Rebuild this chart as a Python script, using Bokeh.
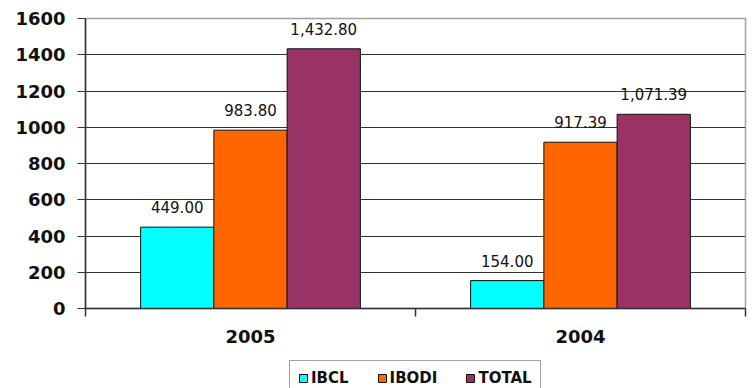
import numpy as np
from bokeh.plotting import figure
from bokeh.layouts import column
from bokeh.models import (ColumnDataSource, FixedTicker, Range1d, Legend, LegendItem,
                          LabelSet)
from bokeh.core.properties import value
from bokeh.embed import file_html
from bokeh.resources import INLINE

# Chart data
years = ["2005", "2004"]
series_names = ["IBCL", "IBODI", "TOTAL"]
ibcl = [449.00, 154.00]
ibodi = [983.80, 917.39]
total = [1432.80, 1071.39]
y_ticks = [0, 200, 400, 600, 800, 1000, 1200, 1400, 1600]

colors = ["#00FFFF", "#FF6600", "#993366"]
FONT = "DejaVu Sans"
INK = "#111111"
AXIS = "#333333"

p = figure(width=752, height=360, output_backend="svg", toolbar_location=None,
           x_range=Range1d(0, len(years)), y_range=Range1d(0, 1600),
           min_border_left=85, min_border_right=7, min_border_top=18,
           min_border_bottom=52)

centers = np.arange(len(years)) + 0.5
bar_w = 0.222
offsets = [-bar_w, 0.0, bar_w]

sources = []
for name, vals, col, off in zip(series_names, [ibcl, ibodi, total], colors, offsets):
    src = ColumnDataSource(dict(
        x=centers + off,
        top=vals,
        label=[f"{v:,.2f}" for v in vals],
    ))
    sources.append(src)
    p.vbar(x="x", top="top", width=bar_w, source=src, fill_color=col,
           line_color=INK, line_width=1)
    p.add_layout(LabelSet(x="x", y="top", text="label", source=src,
                          text_align="center", text_baseline="alphabetic",
                          y_offset=14, text_font=value(FONT), text_font_size="15px",
                          text_color=INK))

# Frame and grid
p.background_fill_color = "white"
p.border_fill_color = "white"
p.outline_line_color = "#a0a0a0"
p.outline_line_width = 1.5
p.xgrid.grid_line_color = None
p.ygrid.grid_line_color = AXIS
p.ygrid.grid_line_width = 1.2

# Y axis
p.yaxis.ticker = FixedTicker(ticks=y_ticks)
p.yaxis.major_label_text_font = FONT
p.yaxis.major_label_text_font_style = "bold"
p.yaxis.major_label_text_font_size = "18px"
p.yaxis.major_label_text_color = INK
p.yaxis.major_tick_out = 8
p.yaxis.major_tick_in = 0
p.yaxis.minor_tick_line_color = None
p.yaxis.major_label_standoff = 12
p.yaxis.axis_line_color = AXIS
p.yaxis.axis_line_width = 1.5
p.yaxis.major_tick_line_color = AXIS

# X axis: labels at category centres, tick marks at category boundaries
p.xaxis.ticker = FixedTicker(ticks=list(centers),
                             minor_ticks=list(range(len(years) + 1)))
p.xaxis.major_label_overrides = {float(c): y for c, y in zip(centers, years)}
p.xaxis.major_label_text_font = FONT
p.xaxis.major_label_text_font_style = "bold"
p.xaxis.major_label_text_font_size = "18px"
p.xaxis.major_label_text_color = INK
p.xaxis.major_tick_line_color = None
p.xaxis.major_tick_out = 8
p.xaxis.major_tick_in = 0
p.xaxis.minor_tick_out = 8
p.xaxis.minor_tick_in = 0
p.xaxis.minor_tick_line_color = AXIS
p.xaxis.minor_tick_line_width = 1.5
p.xaxis.major_label_standoff = 13
p.xaxis.axis_line_color = AXIS
p.xaxis.axis_line_width = 1.5

# Legend strip underneath the chart (its frame lines up with the chart's frame).
# The key glyphs reuse the series sources; those renderers are hidden so only
# the legend itself shows in the strip.
lg = figure(width=752, height=28, output_backend="svg", toolbar_location=None,
            x_range=Range1d(0, len(years)), y_range=Range1d(0, 1600),
            x_axis_type=None, y_axis_type=None,
            min_border_left=85, min_border_right=7, min_border_top=0,
            min_border_bottom=0)
lg.grid.visible = False
lg.outline_line_color = None
lg.background_fill_color = "white"
lg.border_fill_color = "white"

items = []
for name, col, src in zip(series_names, colors, sources):
    r = lg.vbar(x="x", top="top", width=bar_w, source=src, fill_color=col,
                line_color=INK, line_width=1)
    r.visible = False
    items.append(LegendItem(label=name, renderers=[r]))

legend = Legend(
    items=items,
    orientation="horizontal",
    location=(204, -8),
    glyph_width=10, glyph_height=10,
    label_standoff=3, spacing=28, padding=8, margin=0,
    label_text_font=FONT, label_text_font_style="bold",
    label_text_font_size="15px", label_text_color=INK,
    border_line_color="#444444", border_line_width=1,
    background_fill_color="white",
)
lg.add_layout(legend, "center")

layout = column(p, lg, spacing=0)
open("out.html", "w").write(file_html(layout, INLINE))
